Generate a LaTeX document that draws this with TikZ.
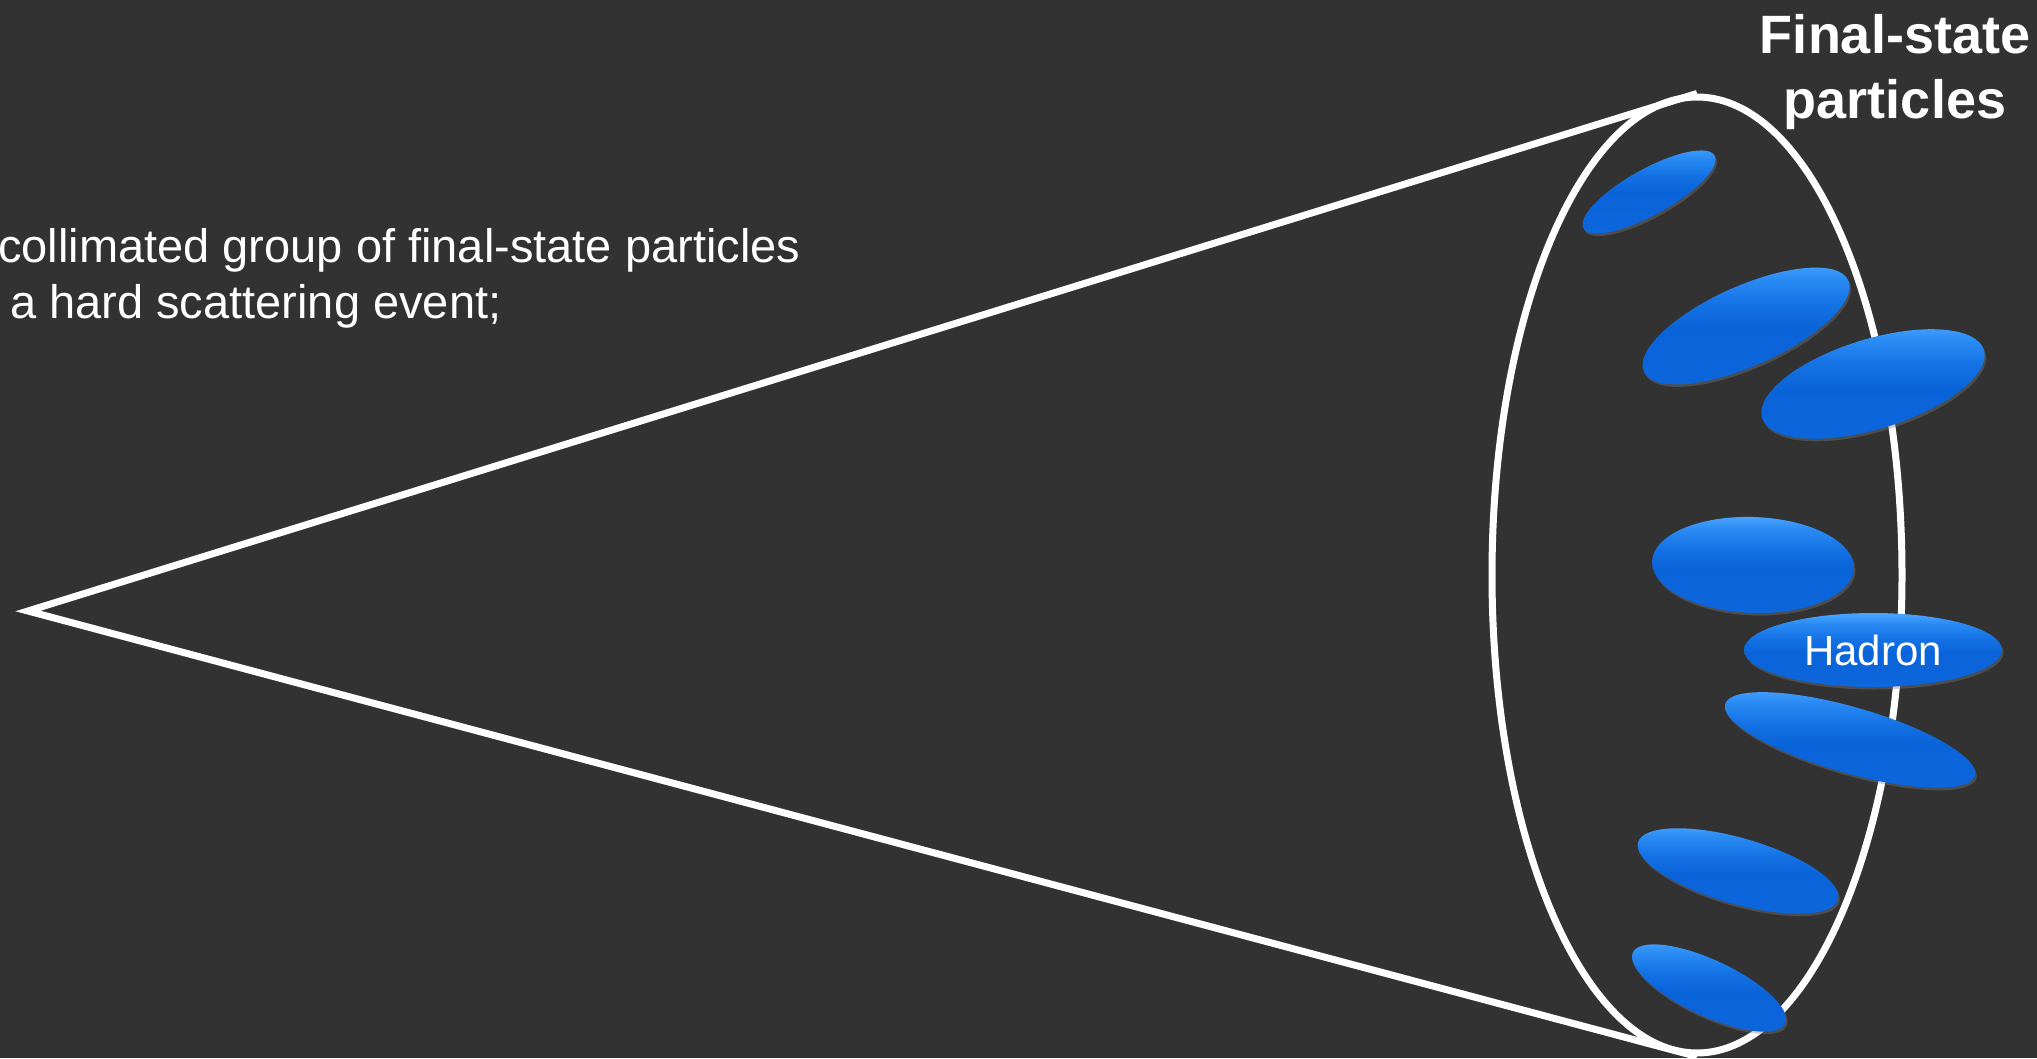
\documentclass[tikz,border=0pt]{standalone}
\usepackage{fontspec}
\setmainfont{Liberation Sans}
\usetikzlibrary{shapes.geometric,shadows}
\definecolor{bg}{RGB}{50,50,50}
\pgfdeclareverticalshading{hadshade}{100bp}{%
  rgb(0bp)=(0.05,0.40,0.86);
  rgb(25bp)=(0.05,0.40,0.86);
  rgb(48bp)=(0.04,0.39,0.85);
  rgb(58bp)=(0.08,0.45,0.90);
  rgb(68bp)=(0.17,0.55,0.96);
  rgb(75bp)=(0.30,0.65,1.00);
  rgb(100bp)=(0.30,0.65,1.00)}
\tikzset{
  wline/.style={draw=white, line width=7pt},
  hadron/.style={ellipse, inner sep=0pt, shading=hadshade,
    drop shadow={opacity=0.35, shadow xshift=1.5pt, shadow yshift=-2.5pt},
    text=white, font=\fontsize{42}{48}\selectfont},
  bodytext/.style={text=white, inner sep=0pt, font=\fontsize{47}{56}\selectfont},
  titletext/.style={text=white, inner sep=0pt, align=center, font=\fontsize{54}{65}\selectfont\bfseries}
}
\begin{document}
\begin{tikzpicture}[x=1pt,y=-1pt]
\useasboundingbox (0,0) rectangle (2037,1058);
\fill[bg] (0,0) rectangle (2037,1058);
\clip (0,0) rectangle (2037,1058);
% text
\node[bodytext, anchor=base west] (t1) at (-2,262) {collimated group of final-state particles};
\node[bodytext, anchor=base west] (t2) at (10,318) {a hard scattering event;};
\node[titletext, anchor=north] (title) at (1895,14) {Final-state\\particles};
% cone
\coordinate (apex) at (28,611);
\node[wline, ellipse, minimum width=410pt, minimum height=956pt, inner sep=0pt] (mouth) at (1697,575) {};
\draw[wline, line join=miter] (mouth.north) -- (apex) -- (mouth.south);
% hadrons
\node[hadron, minimum width=150pt, minimum height=46pt, rotate=29] (h1) at (1649,192) {};
\node[hadron, minimum width=224pt, minimum height=80pt, rotate=24] (h2) at (1746,326) {};
\node[hadron, minimum width=232pt, minimum height=90pt, rotate=17] (h3) at (1873,384) {};
\node[hadron, minimum width=202pt, minimum height=96pt, rotate=-2] (h4) at (1753,565) {};
\node[hadron, minimum width=258pt, minimum height=74pt] (h5) at (1873,650) {Hadron};
\node[hadron, minimum width=260pt, minimum height=66pt, rotate=-16] (h6) at (1850,740) {};
\node[hadron, minimum width=208pt, minimum height=66pt, rotate=-16] (h7) at (1738,871) {};
\node[hadron, minimum width=168pt, minimum height=56pt, rotate=-25] (h8) at (1709,988) {};
\end{tikzpicture}
\end{document}
